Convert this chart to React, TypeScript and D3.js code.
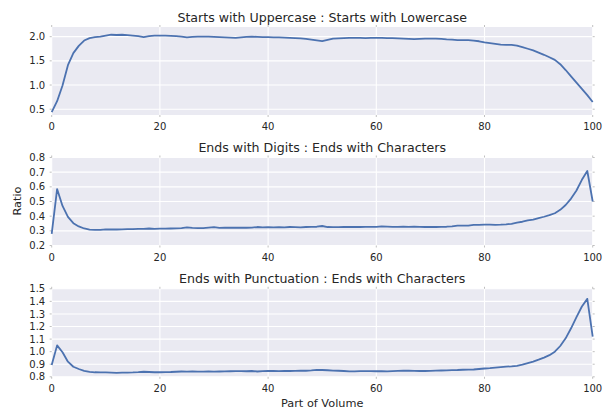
import React from "react";
import * as d3 from "d3";

const xTicks = [0, 20, 40, 60, 80, 100];

const titles = [
  "Starts with Uppercase : Starts with Lowercase",
  "Ends with Digits : Ends with Characters",
  "Ends with Punctuation : Ends with Characters",
];

const upperLower = [
  0.44, 0.665, 0.99, 1.41, 1.66, 1.81, 1.92, 1.97, 1.99, 2.0,
  2.02, 2.04, 2.035, 2.04, 2.03, 2.02, 2.01, 1.99, 2.01, 2.02,
  2.02, 2.02, 2.015, 2.01, 2.0, 1.985, 1.995, 2.0, 2.0, 2.0,
  1.995, 1.99, 1.985, 1.98, 1.975, 1.985, 1.995, 2.0, 1.995, 1.99,
  1.99, 1.985, 1.985, 1.98, 1.975, 1.97, 1.965, 1.955, 1.94, 1.925,
  1.91, 1.935, 1.96, 1.965, 1.97, 1.975, 1.975, 1.975, 1.97, 1.975,
  1.975, 1.975, 1.97, 1.97, 1.965, 1.96, 1.955, 1.95, 1.955, 1.96,
  1.96, 1.96, 1.955, 1.945, 1.94, 1.93, 1.93, 1.93, 1.92, 1.905,
  1.88, 1.865, 1.85, 1.835, 1.83, 1.83, 1.815, 1.785, 1.75, 1.715,
  1.67, 1.625, 1.575, 1.52, 1.43, 1.31, 1.18, 1.05, 0.92, 0.79,
  0.65,
];

const digitsChars = [
  0.28, 0.585, 0.47, 0.395, 0.352, 0.33, 0.316, 0.308, 0.306, 0.307,
  0.31, 0.309, 0.309, 0.31, 0.311, 0.312, 0.313, 0.314, 0.316, 0.314,
  0.315, 0.315, 0.316, 0.317, 0.319, 0.323, 0.32, 0.318, 0.319, 0.322,
  0.325, 0.32, 0.321, 0.321, 0.321, 0.321, 0.321, 0.322, 0.326, 0.323,
  0.325, 0.323, 0.325, 0.324, 0.326, 0.325, 0.324, 0.326, 0.327, 0.328,
  0.333, 0.326, 0.325, 0.325, 0.326, 0.327, 0.326, 0.326, 0.327, 0.327,
  0.327, 0.33, 0.329, 0.327, 0.327, 0.328, 0.327, 0.328, 0.327, 0.326,
  0.326, 0.326, 0.327, 0.328, 0.331, 0.336, 0.335, 0.336, 0.341, 0.341,
  0.343, 0.343, 0.341, 0.342, 0.344, 0.348, 0.356, 0.362, 0.371, 0.376,
  0.386, 0.396, 0.407, 0.42, 0.443, 0.476, 0.52, 0.575, 0.648, 0.708,
  0.5,
];

const punctChars = [
  0.893, 1.05, 0.995, 0.92, 0.88, 0.862, 0.847, 0.839, 0.836, 0.835,
  0.835, 0.834, 0.831, 0.833, 0.834, 0.835, 0.837, 0.84, 0.838, 0.836,
  0.836, 0.837, 0.838, 0.84, 0.842, 0.841, 0.842, 0.841, 0.841, 0.842,
  0.841, 0.842, 0.843, 0.844, 0.845, 0.845, 0.844, 0.846, 0.842, 0.845,
  0.846, 0.846, 0.845, 0.846, 0.846, 0.847, 0.849, 0.848, 0.851, 0.855,
  0.854, 0.852, 0.849, 0.848, 0.846, 0.843, 0.843, 0.845, 0.845, 0.845,
  0.844, 0.844, 0.843, 0.845, 0.847, 0.848, 0.848, 0.847, 0.846, 0.846,
  0.847, 0.849, 0.85, 0.851, 0.853, 0.854, 0.856, 0.857, 0.858, 0.862,
  0.866, 0.869, 0.873, 0.877, 0.881, 0.883, 0.887, 0.896, 0.908, 0.921,
  0.936, 0.953, 0.972, 1.0, 1.045, 1.106, 1.186, 1.274, 1.359, 1.42,
  1.12,
];

const yTicks1 = [0.5, 1.0, 1.5, 2.0];
const yTicks2 = [0.2, 0.3, 0.4, 0.5, 0.6, 0.7, 0.8];
const yTicks3 = [0.8, 0.9, 1.0, 1.1, 1.2, 1.3, 1.4, 1.5];

const panels = [
  { title: titles[0], values: upperLower, domain: [0.38, 2.2], ticks: yTicks1 },
  { title: titles[1], values: digitsChars, domain: [0.2, 0.8], ticks: yTicks2 },
  { title: titles[2], values: punctChars, domain: [0.8, 1.5], ticks: yTicks3 },
];

const W = 603;
const H = 411;
const left = 51.7;
const right = 592.7;
const tops = [27, 157.5, 288.8];
const ph = 88;
const font = "DejaVu Sans";
const textColor = "#262626";
const tickColor = "#b0b0b0";

function Panel({ p, top }: { p: any; top: number }) {
  const x = d3.scaleLinear().domain([0, 100]).range([left, right]);
  const y = d3.scaleLinear().domain(p.domain).range([top + ph, top]);
  const line = d3
    .line<number>()
    .x((_, i) => x(i))
    .y((d) => y(d));
  return (
    <g>
      <rect x={left} y={top} width={right - left} height={ph} fill="#EAEAF2" />
      {xTicks.map((t) => (
        <line key={"gx" + t} x1={x(t)} x2={x(t)} y1={top} y2={top + ph} stroke="#fff" strokeWidth={1.1} />
      ))}
      {p.ticks.map((t: number) => (
        <line key={"gy" + t} x1={left} x2={right} y1={y(t)} y2={y(t)} stroke="#fff" strokeWidth={1.1} />
      ))}
      {xTicks.map((t) => (
        <g key={"tx" + t}>
          <line x1={x(t)} x2={x(t)} y1={top} y2={top - 2} stroke={tickColor} strokeWidth={0.8} />
          <line x1={x(t)} x2={x(t)} y1={top + ph} y2={top + ph + 2} stroke={tickColor} strokeWidth={0.8} />
          <text x={x(t)} y={top + ph + 15} textAnchor="middle" fontFamily={font} fontSize={10} fill={textColor}>
            {t}
          </text>
        </g>
      ))}
      {p.ticks.map((t: number) => (
        <g key={"ty" + t}>
          <line x1={left} x2={left - 2} y1={y(t)} y2={y(t)} stroke={tickColor} strokeWidth={0.8} />
          <line x1={right} x2={right + 2} y1={y(t)} y2={y(t)} stroke={tickColor} strokeWidth={0.8} />
          <text x={left - 6.5} y={y(t) + 3.6} textAnchor="end" fontFamily={font} fontSize={10} fill={textColor}>
            {t.toFixed(1)}
          </text>
        </g>
      ))}
      <path d={line(p.values) || ""} fill="none" stroke="#4C72B0" strokeWidth={1.8} strokeLinejoin="round" />
      <text x={(left + right) / 2} y={top - 5.5} textAnchor="middle" fontFamily={font} fontSize={12.6} fill={textColor}>
        {p.title}
      </text>
    </g>
  );
}

export default function App() {
  return (
    <svg width={W} height={H} style={{ position: "absolute", left: 0, top: 0, background: "#fff" }}>
      <rect x={0} y={0} width={W} height={H} fill="#fff" />
      {panels.map((p, i) => (
        <Panel key={i} p={p} top={tops[i]} />
      ))}
      <text
        transform={`translate(20.5,201) rotate(-90)`}
        textAnchor="middle"
        fontFamily={font}
        fontSize={11.3}
        fill={textColor}
      >
        Ratio
      </text>
      <text x={(left + right) / 2} y={406.5} textAnchor="middle" fontFamily={font} fontSize={11.3} fill={textColor}>
        Part of Volume
      </text>
    </svg>
  );
}
